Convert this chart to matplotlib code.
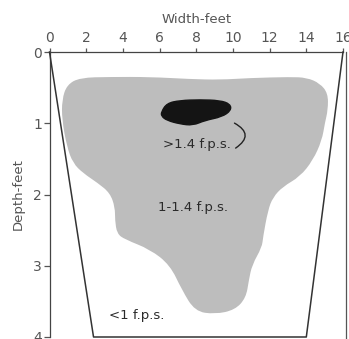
import matplotlib
matplotlib.use("Agg")
import matplotlib.pyplot as plt
from matplotlib.patches import PathPatch, FancyArrowPatch
from matplotlib.path import Path

# ---- data ----
width_ticks = [0, 2, 4, 6, 8, 10, 12, 14, 16]
depth_ticks = [0, 1, 2, 3, 4]

channel_x = [0.0, 2.4, 14.0, 16.0]
channel_y = [0.0, 4.0, 4.0, 0.0]

# 1-1.4 f.p.s. zone outline (width ft, depth ft)
mid_x = [1.66, 3.30, 5.48, 7.66, 9.29, 10.93, 13.11, 14.03, 14.74, 15.18, 15.18, 15.01,
         14.85, 14.36, 13.65, 12.72, 12.18, 11.91, 11.64, 11.58, 11.04, 10.87, 10.71,
         10.11, 9.02, 7.93, 7.22, 6.57, 5.48, 4.11, 3.68, 3.57, 3.57, 3.30, 2.64, 1.83,
         1.28, 0.95, 0.68, 0.68, 0.95]
mid_y = [0.36, 0.35, 0.35, 0.38, 0.39, 0.365, 0.35, 0.36, 0.44, 0.58, 0.81, 1.00,
         1.24, 1.52, 1.75, 1.89, 2.04, 2.22, 2.60, 2.74, 2.99, 3.20, 3.45,
         3.62, 3.68, 3.64, 3.34, 2.99, 2.77, 2.63, 2.55, 2.36, 2.18, 1.98, 1.84, 1.70,
         1.56, 1.33, 0.95, 0.67, 0.46]

# >1.4 f.p.s. core outline
core_x = [6.10, 6.40, 7.11, 8.20, 9.29, 9.85, 9.90, 9.40, 8.47, 7.82, 7.11, 6.40, 6.10]
core_y = [0.84, 0.72, 0.68, 0.67, 0.68, 0.73, 0.82, 0.91, 0.96, 1.03, 1.01, 0.96, 0.90]

zone_labels = [">1.4 f.p.s.", "1-1.4 f.p.s.", "<1 f.p.s."]
label_x = [8.05, 7.85, 4.75]
label_y = [1.30, 2.18, 3.70]


def smooth_closed_path(xs, ys):
    pts = list(zip(xs, ys))
    n = len(pts)
    mids = [((pts[i][0] + pts[(i + 1) % n][0]) / 2, (pts[i][1] + pts[(i + 1) % n][1]) / 2)
            for i in range(n)]
    verts = [mids[-1]]
    codes = [Path.MOVETO]
    for i in range(n):
        verts += [pts[i], mids[i]]
        codes += [Path.CURVE3, Path.CURVE3]
    verts.append(mids[-1])
    codes.append(Path.CLOSEPOLY)
    return Path(verts, codes)


# ---- figure ----
fig = plt.figure(figsize=(3.49, 3.39), dpi=100)
ax = fig.add_axes([49.5 / 349, 2 / 339, (343 - 49.5) / 349, (337 - 52) / 339])
ax.set_xlim(0, 16)
ax.set_ylim(4, 0)

axis_col = "#555555"
ax.xaxis.tick_top()
ax.xaxis.set_label_position("top")
ax.set_xticks(width_ticks)
ax.set_yticks(depth_ticks)
ax.tick_params(axis="x", direction="out", length=3, width=0.9, pad=2,
               colors=axis_col, labelsize=10)
ax.tick_params(axis="y", direction="out", length=4.5, width=0.9, pad=1,
               colors=axis_col, labelsize=10)
for s in ["bottom", "right"]:
    ax.spines[s].set_visible(False)
for s in ["top", "left"]:
    ax.spines[s].set_color("#444444")
    ax.spines[s].set_linewidth(0.9)
ax.set_xlabel("Width-feet", color=axis_col, fontsize=9.5, labelpad=6)
ax.set_ylabel("Depth-feet", color=axis_col, fontsize=9.5, labelpad=6)

ax.add_patch(PathPatch(smooth_closed_path(mid_x, mid_y), facecolor="#bdbdbd",
                       edgecolor="none", zorder=1))
ax.add_patch(PathPatch(smooth_closed_path(core_x, core_y), facecolor="#141414",
                       edgecolor="#141414", linewidth=1, zorder=2))

ax.plot(channel_x, channel_y, color="#333333", linewidth=1.1, clip_on=False, zorder=3)
ax.plot([16.16, 16.16], [0, 4.05], color="#555555", linewidth=0.9, clip_on=False, zorder=3)

ax.add_patch(FancyArrowPatch((9.95, 0.98), (10.02, 1.37), arrowstyle="-",
                             connectionstyle="arc3,rad=-0.9", color="#222222",
                             linewidth=1.0, zorder=3))

for t, x, y in zip(zone_labels, label_x, label_y):
    ax.text(x, y, t, ha="center", va="center", fontsize=9.5, color="#2a2a2a", zorder=4)

fig.savefig("out.png", dpi=100)
